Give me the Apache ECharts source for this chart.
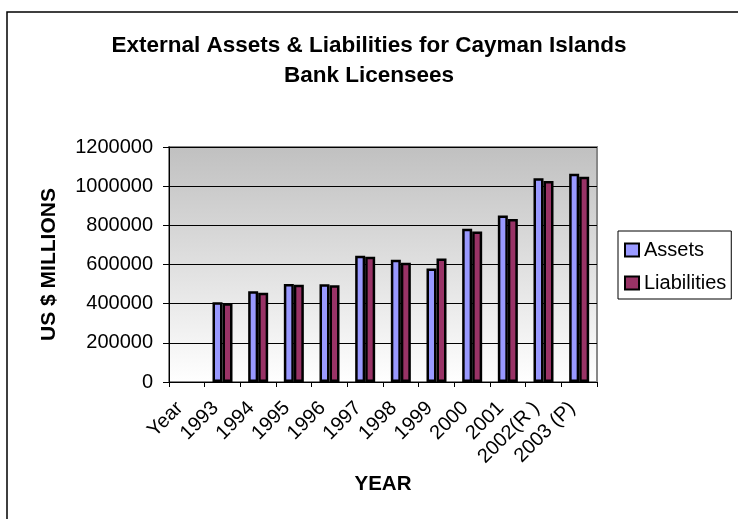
<!DOCTYPE html>
<html>
<head>
<meta charset="utf-8">
<script src="https://cdn.jsdelivr.net/npm/echarts@6/dist/echarts.min.js"></script>
<style>
  html, body { margin: 0; padding: 0; background: #fff; }
  #chart { width: 738px; height: 519px; }
</style>
</head>
<body>
<div id="chart"></div>
<script>
// Year labels along the category axis (first slot is the header column, left empty)
const categories = ['Year', '1993', '1994', '1995', '1996', '1997', '1998', '1999', '2000', '2001', '2002(R )', '2003 (P)'];

// External assets and liabilities, US $ millions
const assets      = [null, 407000, 463000, 501000, 499000, 645000, 624000, 579000, 783000, 850000, 1041000, 1063000];
const liabilities = [null, 402000, 456000, 497000, 494000, 639000, 609000, 631000, 769000, 832000, 1026000, 1048000];

const yTicks = { min: 0, max: 1200000, interval: 200000 };

const FONT = 'Liberation Sans, Arial, sans-serif';

const chart = echarts.init(document.getElementById('chart'), null, { renderer: 'canvas' });

const barStyle = (color) => ({
  color: color,
  borderColor: '#000',
  borderWidth: 2.5
});

chart.setOption({
  animation: false,
  backgroundColor: '#fff',
  textStyle: { fontFamily: FONT, color: '#000' },
  title: {
    text: 'External Assets & Liabilities for Cayman Islands\nBank Licensees',
    left: 'center',
    top: 26,
    textStyle: { fontFamily: FONT, fontSize: 22.5, fontWeight: 'bold', color: '#000', lineHeight: 30 }
  },
  legend: {
    orient: 'vertical',
    left: 618,
    top: 231,
    padding: [9, 5, 6, 6],
    itemGap: 13,
    itemWidth: 14,
    itemHeight: 13,
    icon: 'rect',
    borderColor: '#000',
    borderWidth: 1,
    backgroundColor: '#fff',
    textStyle: { fontFamily: FONT, fontSize: 20, color: '#000' },
    itemStyle: { borderColor: '#000', borderWidth: 2 },
    data: ['Assets', 'Liabilities']
  },
  grid: {
    left: 169,
    top: 147,
    width: 428,
    height: 235,
    show: true,
    borderColor: '#888',
    borderWidth: 2,
    backgroundColor: new echarts.graphic.LinearGradient(0, 0, 0, 1, [
      { offset: 0, color: '#c0c0c0' },
      { offset: 1, color: '#ffffff' }
    ])
  },
  xAxis: {
    type: 'category',
    data: categories,
    name: 'YEAR',
    nameLocation: 'middle',
    nameGap: 92,
    nameTextStyle: { fontFamily: FONT, fontSize: 20.5, fontWeight: 'bold', color: '#000', verticalAlign: 'top' },
    axisLine: { lineStyle: { color: '#000', width: 1 } },
    axisTick: { show: true, length: 5, inside: false, alignWithLabel: false, lineStyle: { color: '#000' } },
    axisLabel: {
      interval: 0,
      rotate: 45,
      margin: 16,
      padding: [0, 10, 0, 0],
      fontFamily: FONT,
      fontSize: 20,
      color: '#000'
    },
    splitLine: { show: false }
  },
  yAxis: {
    type: 'value',
    min: yTicks.min,
    max: yTicks.max,
    interval: yTicks.interval,
    name: 'US $ MILLIONS',
    nameLocation: 'middle',
    nameGap: 109,
    nameTextStyle: { fontFamily: FONT, fontSize: 21, fontWeight: 'bold', color: '#000' },
    axisLine: { show: true, lineStyle: { color: '#000', width: 1 } },
    axisTick: { show: true, length: 6, lineStyle: { color: '#000' } },
    axisLabel: {
      margin: 16,
      fontFamily: FONT,
      fontSize: 20,
      color: '#000',
      formatter: (v) => String(v)
    },
    splitLine: { show: true, lineStyle: { color: '#000', width: 1 } }
  },
  series: [
    {
      name: 'Assets',
      type: 'bar',
      data: assets,
      barWidth: 10,
      barGap: '0%',
      itemStyle: barStyle('#9999ff')
    },
    {
      name: 'Liabilities',
      type: 'bar',
      data: liabilities,
      barWidth: 10,
      barGap: '0%',
      itemStyle: barStyle('#993366')
    }
  ],
  graphic: [
    {
      type: 'rect',
      shape: { x: 7, y: 12, width: 740, height: 520 },
      style: { fill: 'none', stroke: '#000', lineWidth: 1.5 },
      silent: true,
      z: -1
    }
  ]
});
</script>
</body>
</html>
